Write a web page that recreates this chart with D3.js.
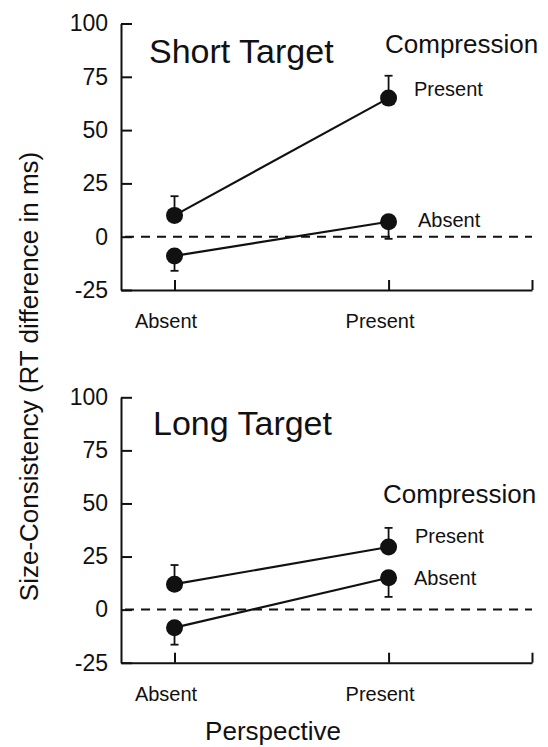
<!DOCTYPE html>
<html>
<head>
<meta charset="utf-8">
<script src="https://cdn.jsdelivr.net/npm/d3@7"></script>
<style>
  body { margin: 0; background: #fff; }
  text { font-family: "Liberation Sans", Arial, Helvetica, sans-serif; fill: #111; }
</style>
</head>
<body>
<script>
// categories along x (Perspective) and y ticks
const perspective = ["Absent", "Present"];
const yTicks = [-25, 0, 25, 50, 75, 100];

// Short target: compression present / absent (means, one-sided error bars)
const shortPresent = [10, 65];
const shortPresentErr = [9, 10.5];
const shortAbsent = [-9, 7];
const shortAbsentErr = [7, 8];

// Long target
const longPresent = [12, 29.5];
const longPresentErr = [9, 9];
const longAbsent = [-8.5, 15];
const longAbsentErr = [8, 9];

const width = 548, height = 747;

const svg = d3.select("body").append("svg")
  .attr("width", width)
  .attr("height", height);

const x = d3.scaleLinear().domain([-0.25, 1.67]).range([121, 532]);

const panels = [
  { title: "Short Target", top: 23.5, bottom: 290, titleX: 149, titleY: 63,
    legX: 385, legY: 53, presY: 96, absY: 227, presX: 414, absX: 418,
    present: shortPresent, presentErr: shortPresentErr,
    absent: shortAbsent, absentErr: shortAbsentErr },
  { title: "Long Target", top: 397.3, bottom: 662.7, titleX: 153, titleY: 435,
    legX: 383, legY: 503, presY: 543, absY: 585, presX: 415, absX: 414,
    present: longPresent, presentErr: longPresentErr,
    absent: longAbsent, absentErr: longAbsentErr }
];

panels.forEach(p => {
  const y = d3.scaleLinear().domain([-25, 100]).range([p.bottom, p.top]);
  const g = svg.append("g");

  // y axis, ticks pointing inward
  const ya = g.append("g")
    .attr("transform", `translate(${x.range()[0]},0)`)
    .call(d3.axisLeft(y).tickValues(yTicks).tickFormat(d => String(d))
      .tickSize(-11).tickSizeOuter(0).tickPadding(13));
  ya.selectAll("path, line").attr("stroke", "#111").attr("stroke-width", 2);
  ya.selectAll("text").attr("font-size", 23).attr("fill", "#111");
  ya.attr("font-family", null);

  // x axis, ticks pointing up, plus end tick
  const xa = g.append("g")
    .attr("transform", `translate(0,${p.bottom})`)
    .call(d3.axisBottom(x).tickValues([0, 1, x.domain()[1]])
      .tickFormat((d, i) => perspective[i] || "")
      .tickSize(-10).tickSizeOuter(0).tickPadding(24));
  xa.selectAll("path, line").attr("stroke", "#111").attr("stroke-width", 2);
  xa.selectAll("text").attr("font-size", 20).attr("dx", -9).attr("fill", "#111");
  xa.attr("font-family", null);

  // zero reference line
  g.append("line")
    .attr("x1", x.range()[0] + 4).attr("x2", x.range()[1])
    .attr("y1", y(0)).attr("y2", y(0))
    .attr("stroke", "#111").attr("stroke-width", 2)
    .attr("stroke-dasharray", "9,7");

  const series = [
    { vals: p.present, err: p.presentErr, dir: 1 },
    { vals: p.absent, err: p.absentErr, dir: -1 }
  ];

  const line = d3.line().x((d, i) => x(i)).y(d => y(d));

  series.forEach(s => {
    g.append("path")
      .attr("d", line(s.vals))
      .attr("fill", "none")
      .attr("stroke", "#111")
      .attr("stroke-width", 2.2);

    s.vals.forEach((v, i) => {
      const yEnd = y(v + s.dir * s.err[i]);
      g.append("line")
        .attr("x1", x(i)).attr("x2", x(i))
        .attr("y1", y(v)).attr("y2", yEnd)
        .attr("stroke", "#111").attr("stroke-width", 1.8);
      g.append("line")
        .attr("x1", x(i) - 4).attr("x2", x(i) + 4)
        .attr("y1", yEnd).attr("y2", yEnd)
        .attr("stroke", "#111").attr("stroke-width", 1.8);
      g.append("circle")
        .attr("cx", x(i)).attr("cy", y(v)).attr("r", 8.5)
        .attr("fill", "#111");
    });
  });

  g.append("text")
    .attr("x", p.titleX).attr("y", p.titleY)
    .attr("font-size", 34)
    .text(p.title);

  g.append("text")
    .attr("x", p.legX).attr("y", p.legY)
    .attr("font-size", 26)
    .text("Compression");
  g.append("text")
    .attr("x", p.presX).attr("y", p.presY)
    .attr("font-size", 20)
    .text("Present");
  g.append("text")
    .attr("x", p.absX).attr("y", p.absY)
    .attr("font-size", 20)
    .text("Absent");
});

// axis titles
svg.append("text")
  .attr("transform", "translate(38,376.5) rotate(-90)")
  .attr("text-anchor", "middle")
  .attr("font-size", 26)
  .text("Size-Consistency (RT difference in ms)");

svg.append("text")
  .attr("x", 273).attr("y", 740)
  .attr("text-anchor", "middle")
  .attr("font-size", 26)
  .text("Perspective");
</script>
</body>
</html>
